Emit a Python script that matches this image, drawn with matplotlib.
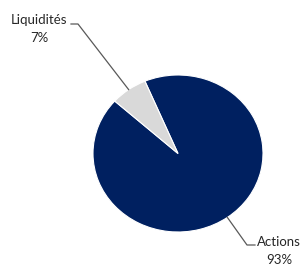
import numpy as np
import matplotlib
matplotlib.use("Agg")
import matplotlib.pyplot as plt
from matplotlib.lines import Line2D

categories = ["Actions", "Liquidités"]
values = [93, 7]
labels = ["93%", "7%"]
colors = ["#002060", "#D9D9D9"]

W, H = 303, 264
fig = plt.figure(figsize=(W / 100, H / 100), dpi=100)
fig.patch.set_facecolor("white")

# pie bbox in pixels (top-left origin)
px0, px1, py0, py1 = 93, 263, 75, 232
ax = fig.add_axes([px0 / W, (H - py1) / H, (px1 - px0) / W, (py1 - py0) / H])
wedges, _ = ax.pie(values, colors=colors, startangle=112.9, counterclock=False,
                   wedgeprops=dict(edgecolor="white", linewidth=0.8))
ax.set_aspect("auto")
ax.set_xlim(-1, 1)
ax.set_ylim(-1, 1)
ax.axis("off")

def fig_px(x, y):
    """convert figure pixel (top-left origin) to figure fraction"""
    return x / W, 1 - y / H

text_pos = {"Liquidités": (39, 29), "Actions": (279, 251)}
elbow = {"Liquidités": [(71, 24), (78, 24)], "Actions": [(255, 245), (247, 245)]}

txt_color = "#262626"
for w, cat, lab in zip(wedges, categories, labels):
    mid = np.deg2rad((w.theta1 + w.theta2) / 2)
    ex, ey = np.cos(mid), np.sin(mid)
    disp = ax.transData.transform((ex, ey))
    fx, fy = fig.transFigure.inverted().transform(disp)
    pts = [fig_px(*p) for p in elbow[cat]] + [(fx, fy)]
    xs, ys = zip(*pts)
    fig.add_artist(Line2D(xs, ys, transform=fig.transFigure, color="#595959", lw=0.9))
    tx, ty = fig_px(*text_pos[cat])
    fig.text(tx, ty, f"{cat}\n{lab}", ha="center", va="center", fontsize=9.5,
             family=["Lato", "DejaVu Sans"], color=txt_color, linespacing=1.5)

fig.savefig("out.png", dpi=100, facecolor="white")
